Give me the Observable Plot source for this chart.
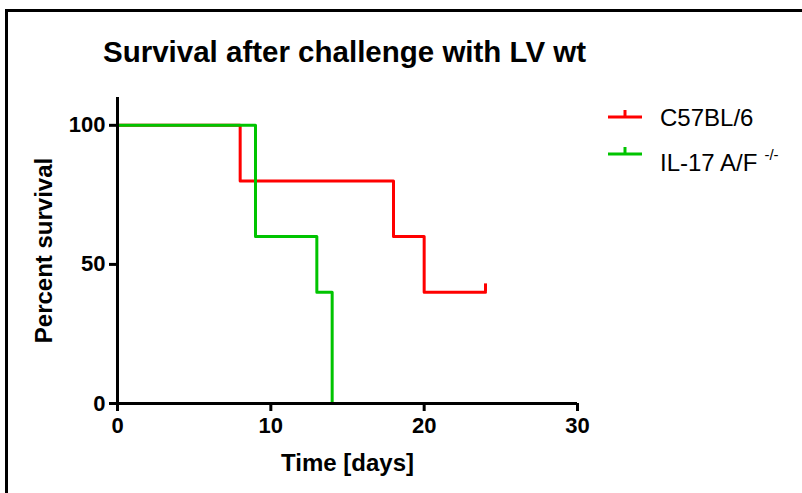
<!DOCTYPE html>
<html>
<head>
<meta charset="utf-8">
<script src="https://cdn.jsdelivr.net/npm/d3@7"></script>
<script src="https://cdn.jsdelivr.net/npm/@observablehq/plot@0.6"></script>
<style>
  html, body { margin: 0; padding: 0; background: #fff; }
  #wrap { position: relative; width: 802px; height: 493px; overflow: hidden; font-family: "Liberation Sans", Arial, sans-serif; }
  #wrap svg { position: absolute; left: 0; top: 0; }
</style>
</head>
<body>
<div id="wrap"></div>
<script>
// ---- data ----
const titleText = "Survival after challenge with LV wt";
const xLabel = "Time [days]";
const yLabel = "Percent survival";
const xTicks = [0, 10, 20, 30];
const yTicks = [0, 50, 100];

const seriesNames = ["C57BL/6", "IL-17 A/F"];
const seriesSup = ["", "-/-"];
const seriesColors = ["#ff0000", "#00c400"];

const c57Days = [0, 8, 18, 20, 24];
const c57Surv = [100, 80, 60, 40, 40];
const c57CensorDays = [24];
const c57CensorSurv = [40];

const il17Days = [0, 9, 13, 14];
const il17Surv = [100, 60, 40, 0];

// ---- build tables ----
const c57 = c57Days.map((t, i) => ({t, s: c57Surv[i]}));
const il17 = il17Days.map((t, i) => ({t, s: il17Surv[i]}));
const c57Censor = c57CensorDays.map((t, i) => ({t, s: c57CensorSurv[i]}));

const W = 802, H = 493;
const chart = Plot.plot({
  width: W, height: H,
  marginLeft: 117, marginRight: 225, marginTop: 97, marginBottom: 90,
  style: {fontFamily: "'Liberation Sans', Arial, sans-serif", fontSize: "22px", fontWeight: "bold", color: "#000", background: "transparent", overflow: "visible"},
  x: {domain: [0, 30]},
  y: {domain: [0, 110]},
  marks: [
    Plot.axisX({ticks: xTicks, tickSize: 8, tickPadding: 6, stroke: "#000", strokeWidth: 3, fontSize: 22, fontWeight: "bold",
      label: xLabel, labelAnchor: "center", labelOffset: 67, labelArrow: false}),
    Plot.axisY({ticks: yTicks, tickSize: 8, tickPadding: 4, stroke: "#000", strokeWidth: 3, fontSize: 22, fontWeight: "bold",
      label: yLabel, labelAnchor: "center", labelOffset: 83, labelArrow: false}),
    Plot.line(c57, {x: "t", y: "s", curve: "step-after", stroke: seriesColors[0], strokeWidth: 3}),
    Plot.ruleX(c57Censor, {x: "t", y1: "s", y2: d => d.s + 3, stroke: seriesColors[0], strokeWidth: 3}),
    Plot.line(il17, {x: "t", y: "s", curve: "step-after", stroke: seriesColors[1], strokeWidth: 3}),
    Plot.ruleY([0], {strokeWidth: 3}),
    Plot.ruleX([0], {strokeWidth: 3})
  ]
});
document.getElementById("wrap").appendChild(chart);
// axis title size
chart.querySelectorAll("g[aria-label]").forEach(g => {
  const a = g.getAttribute("aria-label");
  if (/axis label$/.test(a)) {
    g.setAttribute("font-size", 24);
    g.setAttribute("font-weight", "bold");
    g.querySelectorAll("text").forEach(t => { t.style.fontSize = "24px"; t.style.fontWeight = "bold"; });
  }
});

// ---- overlay: frame, title, legend ----
const ov = d3.select("#wrap").append("svg").attr("width", W).attr("height", H)
  .style("font-family", "'Liberation Sans', Arial, sans-serif");
ov.append("path").attr("d", "M6.5,493 V10.5 H802").attr("fill", "none").attr("stroke", "#000").attr("stroke-width", 3);
ov.append("text").attr("x", 103).attr("y", 62).attr("font-size", 29.5).attr("font-weight", "bold").text(titleText);

const legY = [117, 154];
seriesNames.forEach((name, i) => {
  const g = ov.append("g");
  g.append("line").attr("x1", 608).attr("x2", 642).attr("y1", legY[i]).attr("y2", legY[i])
    .attr("stroke", seriesColors[i]).attr("stroke-width", 3);
  g.append("line").attr("x1", 625).attr("x2", 625).attr("y1", legY[i] - 7).attr("y2", legY[i])
    .attr("stroke", seriesColors[i]).attr("stroke-width", 3);
  const t = g.append("text").attr("x", 660).attr("y", legY[i] + 9 + (i === 1 ? 8 : 0)).attr("font-size", 24).text(name);
  if (seriesSup[i]) {
    t.append("tspan").attr("dx", 7).attr("dy", -11).attr("font-size", 15).text(seriesSup[i]);
  }
});
</script>
</body>
</html>
